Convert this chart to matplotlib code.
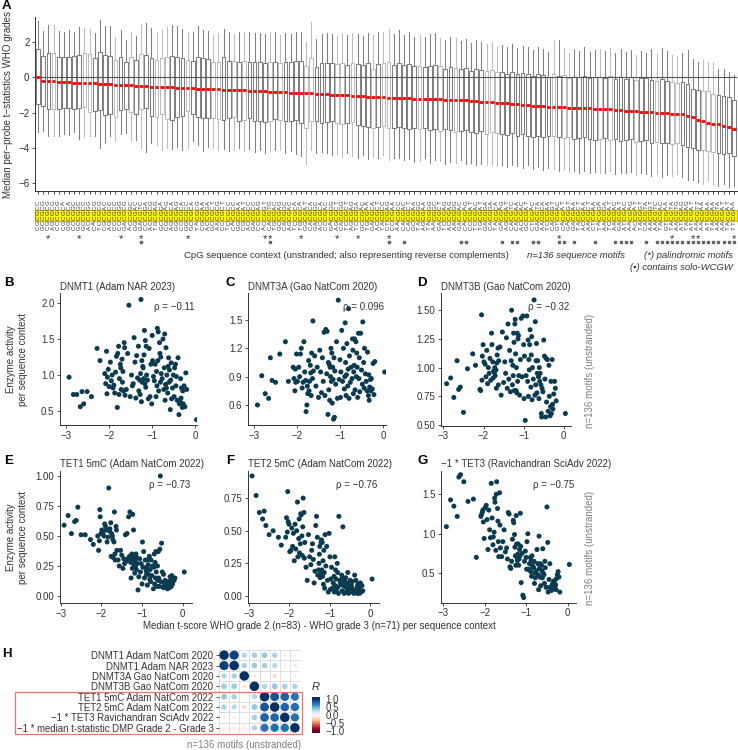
import matplotlib
matplotlib.use("Agg")
import matplotlib.pyplot as plt
import matplotlib.transforms as mtransforms
from matplotlib.patches import Rectangle
import numpy as np

plt.rcParams['font.family'] = ['Liberation Sans', 'DejaVu Sans']

# ---------------------------------------------------------------- data
# 136 unstranded NNCGNN motifs, in plot order (highest median first)
MOTIFS = [
    "CGCGCC", "GCCGCG", "CGCGCG", "AGCGCG", "CCCGCG", "CGCGCA", "GGCGCA", "CCCGGC", "GCCGGC", "GCCGCC",
    "ACCGGG", "CACGCG", "TCCGCG", "CGCGAC", "AGCGCC", "CCCGCC", "CCCGGG", "GACGCG", "ACCGGC", "GGCGAC",
    "GACGTC", "CCCGGA", "ACCGCG", "TGCGAG", "GCCGGA", "CGCGAG", "AGCGCA", "GGCGAG", "CCCGCA", "GGCGCC",
    "GCCGCA", "TACGCG", "CGCGAA", "ACCGGA", "GCCGCT", "AACGCG", "CCCGCT", "TCCGCC", "CACGCC", "GGCGAA",
    "CGCGAT", "ACCGCC", "GACGCC", "CCCGAG", "ACCGGT", "CACGTG", "TGCGAC", "GCCGAG", "CACGGC", "AGCGAC",
    "TCCGCA", "TGCGCA", "GGCGAT", "CACGCA", "GACGGC", "ACCGCA", "CCCGAC", "GACGGG", "AGCGCT", "CACGGG",
    "TCCGCT", "AGCGAG", "TCCGGA", "GCCGAC", "TGCGAA", "GACGCA", "ACCGCT", "TACGCC", "CTCGAG", "CCCGAA",
    "AACGCC", "CACGAC", "CACGCT", "GCCGAA", "TACGGC", "AGCGAA", "TACGGG", "AACGGC", "GACGCT", "TCCGAG",
    "ACCGAG", "AACGGG", "GACGAC", "CACGAG", "CCCGAT", "TCCGAC", "TGCGAT", "GACGGA", "CACGGA", "TACGCA",
    "GACGAG", "AGCGAT", "CACGTC", "CACGAA", "ACCGAC", "GCCGAT", "CTCGAC", "GACGTA", "AACGCA", "TCCGAA",
    "CACGGT", "GTCGAC", "CACGAT", "GACGGT", "GACGAA", "TACGCT", "ACCGAA", "AACGCT", "CTCGAA", "TACGGA",
    "AACGGA", "TCCGAT", "AACGAC", "GACGAT", "ATCGAC", "AACGAG", "ACCGAT", "TACGGT", "CACGTA", "AACGGT",
    "AACGTC", "TACGAC", "GTCGAA", "TACGTA", "AACGTG", "ATCGAG", "TACGAG", "ATCGAT", "AACGTT", "AACGAA",
    "ATCGAA", "TACGAA", "AACGTA", "AACGAT", "TACGAT", "TTCGAA",
]

# box statistics of per-probe t-statistics (panel A)
MEDIANS = [
    0.04, -0.19, -0.21, -0.23, -0.25, -0.27, -0.28, -0.29, -0.31, -0.32,
    -0.33, -0.34, -0.36, -0.37, -0.39, -0.41, -0.43, -0.44, -0.45, -0.47,
    -0.48, -0.5, -0.52, -0.54, -0.55, -0.56, -0.57, -0.59, -0.6, -0.61,
    -0.62, -0.63, -0.65, -0.66, -0.67, -0.68, -0.69, -0.7, -0.71, -0.72,
    -0.74, -0.76, -0.78, -0.79, -0.8, -0.81, -0.82, -0.84, -0.85, -0.86,
    -0.87, -0.88, -0.89, -0.9, -0.92, -0.94, -0.96, -0.98, -0.99, -1.0,
    -1.02, -1.04, -1.06, -1.08, -1.1, -1.12, -1.13, -1.14, -1.15, -1.16,
    -1.17, -1.18, -1.19, -1.2, -1.21, -1.22, -1.23, -1.24, -1.25, -1.26,
    -1.27, -1.28, -1.3, -1.31, -1.33, -1.35, -1.37, -1.39, -1.41, -1.43,
    -1.45, -1.47, -1.5, -1.53, -1.56, -1.59, -1.62, -1.63, -1.64, -1.66,
    -1.67, -1.68, -1.69, -1.71, -1.72, -1.73, -1.75, -1.76, -1.77, -1.79,
    -1.8, -1.82, -1.84, -1.86, -1.88, -1.9, -1.92, -1.94, -1.96, -1.99,
    -2.01, -2.03, -2.04, -2.05, -2.07, -2.09, -2.2, -2.27, -2.4, -2.5,
    -2.58, -2.62, -2.66, -2.74, -2.82, -2.92,
]
Q3 = [
    1.6, 1.22, 1.37, 1.4, 1.18, 1.14, 1.18, 1.2, 1.28, 1.37,
    1.33, 1.08, 1.43, 1.28, 1.22, 0.99, 1.14, 0.86, 1.14, 0.99,
    1.31, 1.28, 1.09, 0.99, 1.09, 1.18, 1.24, 1.18, 1.09, 0.99,
    0.95, 1.18, 1.09, 1.03, 0.9, 0.9, 1.14, 0.93, 0.93, 0.9,
    0.93, 0.9, 0.86, 0.86, 0.84, 0.86, 0.9, 0.84, 0.86, 0.9,
    0.93, 0.91, 0.67, 1.12, 0.61, 0.84, 0.8, 0.8, 0.76, 0.8,
    0.7, 0.8, 0.76, 0.7, 0.8, 0.46, 0.78, 0.8, 0.85, 0.72,
    0.8, 0.7, 0.75, 0.62, 0.65, 0.58, 0.66, 0.7, 0.62, 0.48,
    0.6, 0.55, 0.45, 0.52, 0.38, 0.5, 0.42, 0.35, 0.4, 0.28,
    0.3, 0.22, 0.32, 0.18, 0.25, 0.2, 0.1, 0.22, 0.15, 0.05,
    0.2, 0.08, 0.12, -0.02, 0.05, 0.03, 0.1, -0.05, 0.0, 0.02,
    -0.05, 0.08, -0.1, 0.02, -0.08, 0.04, -0.12, -0.03, -0.06, -0.15,
    -0.2, -0.08, -0.18, -0.25, -0.3, -0.28, -0.35, -0.65, -0.72, -0.75,
    -0.8, -0.95, -1.0, -1.05, -1.1, -1.3,
]
Q1 = [
    -1.52, -1.64, -1.77, -1.81, -1.8, -1.75, -1.72, -1.8, -1.75, -1.7,
    -1.95, -1.9, -1.85, -2.15, -2.05, -2.25, -1.85, -1.8, -1.95, -2.05,
    -1.8, -1.75, -2.2, -2.25, -2.05, -2.35, -2.4, -2.25, -2.2, -1.9,
    -2.1, -2.25, -2.3, -2.3, -2.28, -2.35, -2.4, -2.3, -2.25, -2.45,
    -2.4, -2.3, -2.5, -2.45, -2.55, -2.5, -2.35, -2.4, -2.45, -2.5,
    -2.4, -2.6, -2.9, -2.45, -2.5, -2.6, -2.55, -2.5, -2.6, -2.65,
    -2.6, -2.55, -2.7, -2.75, -2.8, -2.85, -2.8, -2.75, -2.9, -2.85,
    -2.8, -2.9, -2.95, -2.85, -2.95, -2.9, -3.0, -2.95, -3.05, -2.95,
    -3.0, -3.1, -3.05, -3.0, -3.1, -3.15, -3.05, -3.2, -3.1, -3.15,
    -3.2, -3.25, -3.15, -3.3, -3.2, -3.3, -3.4, -3.35, -3.4, -3.3,
    -3.35, -3.4, -3.45, -3.4, -3.5, -3.45, -3.4, -3.5, -3.55, -3.5,
    -3.45, -3.55, -3.5, -3.6, -3.55, -3.5, -3.65, -3.6, -3.55, -3.7,
    -3.65, -3.75, -3.7, -3.8, -3.75, -3.85, -3.95, -4.0, -4.15, -4.1,
    -4.2, -4.25, -4.3, -4.35, -4.3, -4.45,
]
WHISHI = [
    3.18, 2.65, 2.95, 3.0, 2.65, 2.6, 2.7, 2.6, 2.85, 2.8,
    2.75, 2.5, 3.27, 2.9, 2.9, 2.3, 2.7, 2.1, 2.55, 2.35,
    3.05, 3.1, 2.8, 2.6, 2.7, 2.85, 3.0, 2.9, 2.75, 2.55,
    2.6, 2.9, 2.7, 2.65, 2.4, 2.5, 2.75, 2.55, 2.45, 2.6,
    2.55, 2.6, 2.5, 2.5, 2.45, 2.55, 2.6, 2.4, 2.5, 2.45,
    2.6, 2.55, 2.0, 3.15, 2.2, 2.45, 2.5, 2.45, 2.35, 2.5,
    2.4, 2.5, 2.45, 2.35, 2.5, 2.4, 2.6, 2.55, 2.75, 2.45,
    2.7, 2.4, 2.55, 2.3, 2.4, 2.3, 2.45, 2.5, 2.25, 2.1,
    2.3, 2.25, 2.05, 2.2, 1.95, 2.15, 2.0, 1.9, 2.0, 1.75,
    1.85, 1.7, 1.9, 1.65, 1.8, 1.7, 1.55, 1.75, 1.6, 1.45,
    2.1, 2.1, 1.65, 1.4, 1.6, 1.5, 1.7, 1.45, 1.55, 1.6,
    1.5, 1.65, 1.4, 1.6, 1.45, 1.55, 1.3, 1.5, 1.4, 1.6,
    1.35, 1.65, 1.5, 1.25, 1.2, 1.4, 1.55, 1.05, 0.9, 1.0,
    0.85, 0.9, 0.5, 0.45, 0.3, 0.15,
]
WHISLO = [
    -3.1, -3.05, -3.35, -3.35, -3.3, -3.2, -3.25, -3.1, -3.5, -3.4,
    -3.35, -3.3, -4.0, -3.75, -3.3, -3.6, -3.2, -3.15, -3.55, -3.55,
    -4.0, -4.25, -3.7, -3.85, -4.1, -4.0, -4.05, -3.95, -4.1, -4.0,
    -3.6, -3.85, -4.2, -3.95, -4.0, -4.1, -4.05, -4.2, -4.15, -4.0,
    -4.2, -4.05, -4.25, -4.1, -4.3, -4.2, -4.1, -4.15, -4.3, -4.2,
    -4.35, -4.45, -4.9, -4.1, -4.3, -4.25, -4.3, -4.4, -4.35, -4.5,
    -4.3, -4.45, -4.6, -4.4, -4.65, -4.5, -4.55, -4.4, -4.7, -4.6,
    -4.55, -4.7, -4.65, -4.8, -4.75, -4.6, -4.85, -4.7, -4.75, -4.9,
    -4.8, -4.85, -4.7, -4.9, -4.85, -5.0, -4.9, -4.95, -5.0, -5.05,
    -4.95, -5.1, -5.0, -5.05, -5.15, -5.0, -5.2, -5.1, -5.25, -5.15,
    -5.2, -5.3, -5.25, -5.35, -5.3, -5.4, -5.3, -5.45, -5.35, -5.4,
    -5.45, -5.3, -5.5, -5.4, -5.45, -5.35, -5.55, -5.45, -5.5, -5.6,
    -5.5, -5.65, -5.55, -5.6, -5.5, -5.65, -5.85, -5.8, -5.95, -6.05,
    -5.9, -6.1, -6.15, -6.05, -6.2, -6.15,
]
LIGHT_BOXES = [3, 9, 10, 15, 18, 20, 23, 24, 25, 29, 34, 35, 38, 40, 45, 47, 52, 53, 58, 59, 61,
               65, 67, 68, 74, 78, 81, 87, 88, 89, 100, 102, 103, 109, 111, 116, 120, 123, 124,
               129, 130, 131]

# enzyme activity per motif, same order as MOTIFS (x = MEDIANS)
Y_DNMT1 = [
    0.38,
    0.8, 1.03, 0.56, 0.85, 0.6, 0.78, 0.55, 0.82, 0.68, 0.95, 0.63, 0.6, 0.45, 1.24,
    0.65, 0.98, 0.85, 1.15, 1.1, 0.7, 1.0, 0.82, 0.67, 1.17, 0.93, 0.52, 1.07, 0.9, 1.24, 1.12, 0.75,
    1.0, 0.82, 1.38, 0.87, 0.65, 1.57, 1.1, 0.8, 1.5, 0.95, 1.02, 1.25, 0.9, 1.3, 1.45, 0.78,
    1.6, 1.2, 1.65, 0.85, 1.05, 0.7, 1.15, 0.92,
    0.98, 1.2, 1.55, 0.6, 1.15, 0.7, 1.37, 0.67, 0.93, 1.0, 1.4, 0.83, 1.48, 0.88, 1.62, 1.28, 0.95, 1.1,
    1.12, 0.9, 1.2, 0.63, 2.05, 1.02, 0.73, 0.93, 0.78, 1.4, 0.96, 1.27, 0.68, 1.18, 1.52, 0.88,
    0.85, 1.0, 0.7, 1.97, 1.3, 0.8,
    0.72, 1.38, 1.45, 0.78, 1.05, 0.9, 1.22, 0.8, 1.1, 1.15, 0.95, 0.73, 1.4, 1.3, 0.55, 1.26,
    1.04, 0.75, 0.86, 0.82, 1.0, 0.92, 1.18,
    0.84, 1.08, 0.97, 0.74, 1.33, 0.88, 1.02,
    1.2, 1.37, 0.7, 0.77, 0.6, 0.77, 0.56, 0.73, 0.73, 0.97,
]
Y_DNMT3A = [
    0.95,
    1.06, 0.71, 1.04, 0.77, 0.88, 0.75, 0.87, 0.79, 0.65, 0.92, 0.7, 1.16, 0.75, 0.85,
    0.93, 1.2, 0.78, 1.05, 1.48, 0.82, 0.97, 1.36, 0.74, 1.1, 0.88, 1.36, 0.68, 1.0, 1.15, 0.9, 1.27,
    0.76, 1.3, 1.02, 0.95, 0.72, 1.18, 1.3, 0.88, 1.0, 0.84, 1.12, 0.67, 1.62, 0.98, 0.8, 1.25,
    0.92, 0.7, 1.05, 1.47, 0.9, 0.77, 1.2, 0.85,
    1.39, 0.95, 0.68, 1.08, 0.87, 1.71, 0.67, 1.27, 0.82, 0.96, 0.47, 1.1, 0.45, 0.87, 1.0, 0.62, 1.15, 0.85,
    1.2, 0.9, 1.0, 0.65, 1.03, 0.76, 1.05, 0.5, 1.38, 0.93, 1.4, 0.7, 1.37, 0.85, 1.1, 0.73,
    0.95, 1.18, 0.68, 1.0, 0.8, 1.12,
    0.96, 1.49, 0.88, 1.15, 0.7, 0.94, 1.02, 0.85, 0.75, 1.07, 0.72, 0.8, 0.6, 0.53, 0.86, 0.95,
    1.27, 0.84, 0.78, 1.2, 1.14, 0.9, 1.0,
    0.85, 1.14, 0.84, 0.98, 0.75, 0.88, 1.0,
    0.85, 1.27, 1.14, 0.84, 0.86, 1.1, 0.67, 0.72, 0.91, 0.6,
]
Y_DNMT3B = [
    0.6,
    0.71, 0.82, 0.88, 0.77, 0.64, 0.68, 1.07, 0.6, 0.88, 0.66, 0.58, 0.75, 1.02, 0.62,
    1.07, 0.7, 1.08, 0.57, 0.9, 1.1, 1.24, 0.79, 0.82, 0.57, 0.6, 0.85, 0.95, 0.88, 1.0, 0.73, 0.92,
    1.06, 0.95, 0.78, 1.21, 1.06, 0.85, 1.4, 0.76, 1.59, 0.9, 1.0, 0.72, 1.27, 1.11, 0.83, 1.33,
    1.2, 0.98, 1.07, 0.75, 1.24, 0.88, 1.45, 0.93,
    0.54, 1.1, 0.73, 1.2, 1.45, 0.92, 1.43, 1.07, 0.76, 0.93, 1.28, 1.25, 0.88, 1.3, 0.78, 1.0, 0.8, 1.12,
    1.42, 1.38, 0.8, 1.22, 1.3, 0.93, 1.02, 0.85, 1.5, 1.06, 0.79, 1.15, 0.9, 1.38, 0.82, 1.26,
    0.95, 1.05, 0.87, 1.31, 0.76, 1.18,
    1.06, 0.85, 1.17, 1.11, 1.04, 0.82, 0.98, 0.93, 1.0, 0.96, 0.97, 0.91, 1.05, 1.2, 1.3, 0.89,
    1.08, 0.95, 1.0, 0.86, 1.15, 0.92, 1.03,
    1.05, 1.2, 1.1, 0.89, 1.46, 0.8, 0.81,
    1.02, 1.12, 0.99, 0.61, 0.83, 0.81, 1.06, 0.74, 0.91, 0.86,
]
Y_TET1 = [
    0.2,
    0.15, 0.13, 0.14, 0.1, 0.17, 0.08, 0.12, 0.16, 0.07, 0.11, 0.12, 0.09, 0.06, 0.1,
    0.07, 0.13, 0.09, 0.1, 0.18, 0.07, 0.2, 0.44, 0.12, 1.0, 0.39, 0.08, 0.15, 0.37, 0.13, 0.25, 0.08,
    0.2, 0.37, 0.15, 0.28, 0.1, 0.35, 0.24, 0.06, 0.25, 0.17, 0.3, 0.12, 0.22, 0.14, 0.33, 0.18,
    0.26, 0.3, 0.09, 0.24, 0.18, 0.21, 0.3, 0.15,
    0.37, 0.24, 0.45, 0.1, 0.27, 0.2, 0.31, 0.16, 0.05, 0.27, 0.32, 0.22, 0.35, 0.24, 0.29, 0.19, 0.33, 0.26,
    0.55, 0.32, 0.68, 0.23, 0.35, 0.3, 0.15, 0.28, 0.7, 0.33, 0.66, 0.31, 0.52, 0.29, 0.51, 0.27,
    0.31, 0.23, 0.34, 0.38, 0.25, 0.3,
    0.38, 0.55, 0.58, 0.3, 0.35, 0.7, 0.45, 0.32, 0.47, 0.5, 0.52, 0.33, 0.61, 0.56, 0.54, 0.9,
    0.49, 0.45, 0.55, 0.58, 0.6, 0.5, 0.53,
    0.55, 0.52, 0.66, 0.72, 0.46, 0.38, 0.5,
    0.43, 0.47, 0.51, 0.51, 0.74, 0.63, 0.62, 0.52, 0.67, 0.59,
]
Y_TET2 = [
    0.13,
    0.04, 0.08, 0.03, 0.1, 0.02, 0.06, 0.05, 0.09, 0.02, 0.07, 0.04, 0.12, 0.03, 0.16,
    0.02, 0.05, 0.03, 0.11, 0.08, 0.04, 0.12, 0.06, 0.02, 0.09, 0.18, 0.05, 0.1, 0.03, 0.14, 0.07, 0.11,
    0.02, 0.11, 0.08, 0.53, 0.14, 0.04, 0.16, 0.09, 0.1, 0.12, 0.61, 0.02, 0.07, 0.18, 0.25, 0.05,
    0.13, 0.2, 0.08, 0.3, 0.03, 0.15, 0.1, 0.06,
    0.22, 0.13, 0.05, 0.3, 0.48, 0.03, 0.12, 0.38, 0.23, 0.47, 0.06, 0.18, 0.35, 0.09, 0.27, 0.15, 0.41, 0.2,
    0.43, 0.41, 0.17, 0.14, 0.38, 0.32, 0.25, 0.2, 0.16, 0.45, 0.61, 0.54, 0.19, 0.1, 0.28, 0.4,
    0.35, 0.24, 0.3, 0.47, 0.12, 0.22,
    0.41, 0.29, 0.64, 0.75, 0.53, 0.31, 0.46, 0.62, 0.63, 0.4, 0.33, 0.59, 0.44, 0.3, 0.72, 0.5,
    0.36, 0.55, 0.27, 0.48, 0.38, 0.52, 0.35,
    0.34, 0.55, 0.57, 0.8, 0.49, 0.6, 0.45,
    0.39, 0.45, 0.5, 0.47, 0.54, 0.65, 0.59, 0.64, 0.77, 0.92,
]
Y_TET3 = [
    0.61,
    0.26, 0.45, 0.52, 0.48, 0.43, 0.29, 0.35, 0.31, 0.38, 0.33, 0.4, 0.3, 0.36, 0.28,
    0.31, 0.62, 0.32, 0.42, 0.26, 0.89, 1.34, 0.32, 0.57, 0.65, 0.37, 0.48, 0.5, 0.81, 0.44, 0.53, 0.6,
    0.34, 0.62, 0.45, 0.56, 0.97, 0.29, 0.48, 0.62, 0.8, 0.53, 0.44, 0.5, 0.37, 0.65, 0.57, 0.58,
    0.6, 0.72, 0.46, 0.66, 0.52, 0.7, 0.62, 0.55,
    1.0, 0.9, 0.55, 0.7, 0.78, 0.65, 0.19, 0.22, 0.75, 0.38, 0.84, 1.26, 0.72, 0.8, 0.68, 0.6, 0.87, 0.74,
    0.66, 0.7, 0.87, 1.23, 0.6, 0.72, 0.83, 0.99, 1.14, 1.17, 0.93, 0.65, 0.56, 0.58, 1.25, 1.27,
    0.68, 0.82, 0.77, 1.05, 0.9, 0.71,
    0.82, 1.11, 1.52, 0.71, 0.9, 1.16, 1.32, 1.66, 1.5, 0.79, 1.4, 1.45, 1.02, 0.96, 0.86, 1.2,
    1.64, 0.95, 1.05, 1.3, 0.8, 1.18, 1.36,
    1.33, 0.94, 1.15, 1.3, 1.28, 1.25, 1.22,
    0.7, 1.44, 1.41, 1.66, 1.75, 1.72, 1.22, 1.35, 1.43, 1.09,
]

SCATTER_TITLES = ["DNMT1 (Adam NAR 2023)", "DNMT3A (Gao NatCom 2020)", "DNMT3B (Gao NatCom 2020)",
                  "TET1 5mC (Adam NatCom 2022)", "TET2 5mC (Adam NatCom 2022)",
                  "\u22121 * TET3 (Ravichandran SciAdv 2022)"]
SCATTER_RHO = ["\u03c1 = \u22120.11", "\u03c1 = 0.096", "\u03c1 = \u22120.32",
               "\u03c1 = \u22120.73", "\u03c1 = \u22120.76", "\u03c1 = \u22120.75"]

# correlation matrix (panel H)
CORR_LABELS = ["DNMT1 Adam NatCom 2020", "DNMT1 Adam NAR 2023", "DNMT3A Gao NatCom 2020",
               "DNMT3B Gao NatCom 2020", "TET1 5mC Adam NatCom 2022", "TET2 5mC Adam NatCom 2022",
               "\u22121 * TET3 Ravichandran SciAdv 2022",
               "\u22121 * median t-statistic DMP Grade 2 - Grade 3"]
CORR = [
    [1.0, 0.93, 0.3, 0.35, 0.38, 0.32, 0.1, 0.08],
    [0.93, 1.0, 0.32, 0.36, 0.33, 0.28, 0.09, -0.11],
    [0.3, 0.32, 1.0, -0.14, 0.04, -0.2, 0.05, -0.1],
    [0.35, 0.36, -0.14, 1.0, 0.3, 0.38, 0.33, 0.32],
    [0.38, 0.33, 0.04, 0.3, 1.0, 0.86, 0.82, 0.73],
    [0.32, 0.28, -0.2, 0.38, 0.86, 1.0, 0.8, 0.76],
    [0.1, 0.09, 0.05, 0.33, 0.82, 0.8, 1.0, 0.75],
    [0.08, -0.11, -0.1, 0.32, 0.73, 0.76, 0.75, 1.0],
]
CBAR_TICKS = [1.0, 0.5, 0.0, -0.5, -1.0]

N = len(MOTIFS)
for arr in (MEDIANS, Q1, Q3, WHISHI, WHISLO, Y_DNMT1, Y_DNMT3A, Y_DNMT3B, Y_TET1, Y_TET2, Y_TET3):
    assert len(arr) == N, len(arr)

# ---------------------------------------------------------------- style
W, H = 738, 750
INK = "#333333"
DARK = "#7f7f7f"
LIGHT = "#bdbdbd"
DOT = "#0c3a4f"
COMP = {"A": "T", "C": "G", "G": "C", "T": "A"}

fig = plt.figure(figsize=(W / 100, H / 100), dpi=100)


def add_ax(x0, y0, x1, y1):
    # pixel box (top-left origin) -> figure axes
    return fig.add_axes([x0 / W, 1 - y1 / H, (x1 - x0) / W, (y1 - y0) / H])


def ftext(x, y, s, **kw):
    kw.setdefault("color", INK)
    kw.setdefault("fontsize", 7)
    return fig.text(x / W, 1 - y / H, s, **kw)


def classic(ax):
    for sp in ("top", "right"):
        ax.spines[sp].set_visible(False)
    for sp in ("left", "bottom"):
        ax.spines[sp].set_color(INK)
        ax.spines[sp].set_linewidth(0.7)
    ax.tick_params(length=2.5, width=0.6, color=INK, labelcolor=INK, labelsize=7, pad=1.5)


# ---------------------------------------------------------------- A: boxplots
axA = add_ax(35, 17, 737, 191)
stats = [dict(med=MEDIANS[i], q1=Q1[i], q3=Q3[i], whislo=WHISLO[i], whishi=WHISHI[i]) for i in range(N)]
art = axA.bxp(stats, positions=np.arange(N), widths=0.72, showfliers=False, showcaps=False,
              manage_ticks=False, boxprops=dict(lw=0.75), whiskerprops=dict(lw=0.75),
              medianprops=dict(color="red", lw=2.0, solid_capstyle="butt", zorder=4))
for i in range(N):
    c = LIGHT if i in LIGHT_BOXES else DARK
    art["boxes"][i].set_color(c)
    art["whiskers"][2 * i].set_color(c)
    art["whiskers"][2 * i + 1].set_color(c)
axA.axhline(0, color="#555555", lw=0.8, zorder=3)
axA.set_xlim(-0.6, N - 0.4)
axA.set_ylim(-6.45, 3.43)
axA.set_yticks([-6, -4, -2, 0, 2])
axA.set_xticks(np.arange(N))
axA.set_xticklabels([])
classic(axA)
axA.set_ylabel("Median per\u2212probe t\u2212statistics WHO grades", fontsize=7, color=INK, labelpad=4)

trans = mtransforms.blended_transform_factory(axA.transData, fig.transFigure)
row_h = 5.1
row_bottom = 228
band = Rectangle((-0.6, 1 - 220.6 / H), N + 0.2, 10.3 / H, transform=trans, clip_on=False,
                 facecolor="#fdf31c", edgecolor="#b8ad00", lw=0.6, zorder=1)
axA.add_patch(band)
for i, m in enumerate(MOTIFS):
    for k, ch in enumerate(m):
        axA.text(i, 1 - (row_bottom - k * row_h) / H, ch, transform=trans, rotation=90,
                 ha="center", va="center", fontsize=4.4, color=INK, clip_on=False, zorder=3)
    palin = all(COMP[a] == b for a, b in zip(m, m[::-1]))
    wcgw = m[1] in "AT" and m[4] in "AT"
    if palin:
        axA.text(i, 1 - 239 / H, "*", transform=trans, ha="center", va="center",
                 fontsize=8, color=INK, clip_on=False)
    if wcgw:
        axA.plot([i], [1 - 242.5 / H], transform=trans, marker="s", ms=2.0, color="#666666",
                 clip_on=False, lw=0)

ftext(346, 256, "CpG sequence context (unstranded; also representing reverse complements)",
      ha="center", va="center", fontsize=6.8)
ftext(527, 256, "n=136 sequence motifs", ha="left", va="center", fontsize=6.8, style="italic")
ftext(733, 256, "(*) palindromic motifs", ha="right", va="center", fontsize=6.8, style="italic")
ftext(733, 268, "(\u25aa) contains solo-WCGW", ha="right", va="center", fontsize=6.8, style="italic")

# ---------------------------------------------------------------- B-G: scatter panels
panels = [
    # box (px), xlim, ylim, yticks, tick format, letter x
    ((60, 293, 197, 425), (-3.13, 0.05), (0.306, 2.14), [0.5, 1.0, 1.5, 2.0], "%.1f", 4),
    ((248, 293, 386, 425), (-3.14, 0.07), (0.388, 1.786), [0.6, 0.9, 1.2, 1.5], "%.1f", 226),
    ((441, 293, 571, 425.7), (-3.06, 0.18), (0.494, 1.65), [0.5, 0.75, 1.0, 1.25, 1.5], "%.2f", 417),
    ((60, 470.7, 192, 603.3), (-3.02, 0.23), (-0.061, 1.044), [0.0, 0.25, 0.5, 0.75, 1.0], "%.2f", 4),
    ((248, 470.7, 379, 603.3), (-3.02, 0.21), (-0.056, 0.96), [0.0, 0.25, 0.5, 0.75], "%.2f", 226),
    ((441, 470.7, 576, 602.7), (-3.05, 0.2), (0.125, 1.8), [0.5, 1.0, 1.5], "%.1f", 417),
]
ys = [Y_DNMT1, Y_DNMT3A, Y_DNMT3B, Y_TET1, Y_TET2, Y_TET3]
letters = "BCDEFG"
for n, (box, xl, yl, yt, fmt, lx) in enumerate(panels):
    ax = add_ax(*box)
    ax.scatter(MEDIANS, ys[n], s=13, color=DOT, edgecolors="none", zorder=3)
    ax.set_xlim(*xl)
    ax.set_ylim(*yl)
    ax.set_xticks([-3, -2, -1, 0])
    ax.set_xticklabels(["\u22123", "\u22122", "\u22121", "0"])
    ax.set_yticks(yt)
    ax.set_yticklabels([fmt % v for v in yt])
    classic(ax)
    x0, y0, x1, y1 = box
    ftext(x0, y0 - 6.5, SCATTER_TITLES[n], ha="left", va="center")
    ftext(x1 - 2, y0 + 14, SCATTER_RHO[n], ha="right", va="center")
    ftext(lx, y0 - 10, letters[n], ha="left", va="center", fontsize=9.5, weight="bold", color="black")

for yc in (359, 537):
    ftext(17, yc, "Enzyme activity\nper sequence context", ha="center", va="center",
          rotation=90, linespacing=1.15)
for yc in (371, 548):
    ftext(590, yc, "n=136 motifs (unstranded)", ha="center", va="center", rotation=90,
          color="#7f7f7f")
ftext(319, 626, "Median t-score WHO grade 2 (n=83) - WHO grade 3 (n=71) per sequence context",
      ha="center", va="center")

ftext(2, 6, "A", ha="left", va="center", fontsize=9.5, weight="bold", color="black")

# ---------------------------------------------------------------- H: correlation matrix
axH = add_ax(219, 650, 300, 733)
cx, cy, cv = [], [], []
for i in range(8):
    for j in range(8):
        cx.append(j + 1)
        cy.append(i + 1)
        cv.append(CORR[i][j])
cv = np.array(cv)
for k in range(9):
    axH.axhline(k + 0.5, color="#d9d9d9", lw=0.6, zorder=1)
    axH.axvline(k + 0.5, color="#d9d9d9", lw=0.6, zorder=1)
axH.scatter(cx, cy, s=47 * np.abs(cv), c=cv, cmap="RdBu", vmin=-1, vmax=1,
            edgecolors="none", zorder=3)
axH.set_xlim(0.5, 8.5)
axH.set_ylim(8.5, 0.5)
axH.set_xticks([])
axH.set_yticks(range(1, 9))
axH.set_yticklabels(CORR_LABELS)
for sp in axH.spines.values():
    sp.set_visible(False)
axH.tick_params(axis="y", length=2.5, width=0.6, color=INK, labelcolor=INK, labelsize=6.9, pad=1.5)

axC = add_ax(312, 697, 320, 733)
grad = np.linspace(1.13, -1.13, 120).reshape(-1, 1)
axC.imshow(grad, aspect="auto", cmap="RdBu", vmin=-1, vmax=1, extent=(0, 1, -1.13, 1.13))
axC.set_xticks([])
axC.yaxis.tick_right()
axC.set_yticks(CBAR_TICKS)
axC.set_yticklabels(["%.1f" % v if v >= 0 else "\u2212%.1f" % -v for v in CBAR_TICKS])
axC.tick_params(axis="y", length=0, labelsize=7, labelcolor=INK, pad=4)
for sp in axC.spines.values():
    sp.set_visible(False)
ftext(316, 687, "R", ha="center", va="center", fontsize=8, style="italic")

frame = Rectangle((15 / W, 1 - 734.3 / H), (301.7 - 15) / W, 42 / H, transform=fig.transFigure,
                  fill=False, edgecolor="#f07070", lw=0.9, zorder=5)
fig.patches.append(frame)
ftext(301, 745, "n=136 motifs (unstranded)", ha="right", va="center", color="#7f7f7f")
ftext(2, 654, "H", ha="left", va="center", fontsize=9.5, weight="bold", color="black")

fig.savefig("out.png", dpi=100)
